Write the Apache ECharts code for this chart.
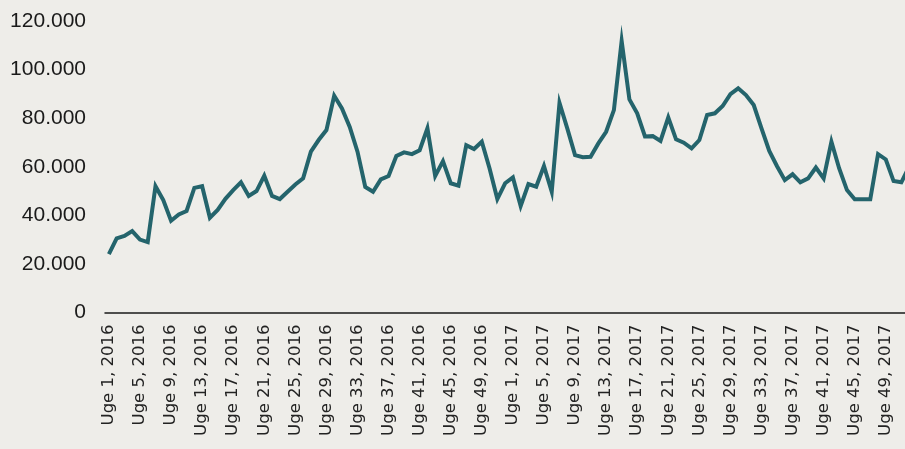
<!DOCTYPE html>
<html>
<head>
<meta charset="utf-8">
<script src="https://cdn.jsdelivr.net/npm/echarts@6/dist/echarts.min.js"></script>
<style>
  html, body { margin: 0; padding: 0; background: #eeede9; overflow: hidden; width: 905px; height: 449px; }
  #chart { width: 925px; height: 449px; }
</style>
</head>
<body>
<div id="chart"></div>
<script>
// ugenumre 2016 og 2017
var years = [2016, 2017];
var weeksPerYear = 52;

// ugentlige værdier, Uge 1 2016 .. Uge 52 2017
var values2016 = [
    24000, 30500, 31500, 33500, 30000, 29000, 52000, 46300, 37800, 40400,
    41800, 51300, 52000, 39000, 42200, 46800, 50400, 53600, 48000, 50000,
    56300, 48000, 46700, 49700, 52700, 55200, 66200, 71000, 75100, 89200,
    84000, 76400, 66200, 51700, 49700, 54800, 56200, 64400, 65900, 65200,
    66800, 75800, 56200, 62300, 53200, 52200, 68900, 67300, 70300, 59300,
    46700, 53200
];
var values2017 = [
    55600, 43800, 52900, 51800, 60300, 49700, 86300, 75800, 64800, 63900,
    64100, 69600, 74400, 83300, 111800, 87700, 82000, 72500, 72600, 70600,
    80300, 71300, 69900, 67600, 71000, 81300, 82000, 85000, 89900, 92300,
    89500, 85400, 75800, 66500, 60200, 54500, 56900, 53600, 55200, 59700,
    55200, 70300, 59300, 50400, 46600, 46600, 46600, 65200, 63000, 54100,
    53600, 60000
];
var yTicks = [0, 20000, 40000, 60000, 80000, 100000, 120000];

var categories = [];
years.forEach(function (y) {
    for (var w = 1; w <= weeksPerYear; w++) {
        categories.push('Uge ' + w + ', ' + y);
    }
});
var data = values2016.concat(values2017);

var chart = echarts.init(document.getElementById('chart'));

var option = {
    backgroundColor: '#eeede9',
    animation: false,
    grid: {
        left: 105,
        top: 21,
        width: 808,
        height: 291.5
    },
    xAxis: {
        type: 'category',
        data: categories,
        boundaryGap: true,
        axisLine: { lineStyle: { color: '#1a1a1a', width: 1.5 } },
        axisTick: {
            length: 4,
            interval: function (i) { return i % 2 === 1; },
            lineStyle: { color: '#1a1a1a', width: 1.2 }
        },
        axisLabel: {
            interval: 3,
            rotate: 90,
            margin: 12,
            color: '#222',
            fontFamily: 'DejaVu Sans',
            fontSize: 16.5
        }
    },
    yAxis: {
        type: 'value',
        min: yTicks[0],
        max: yTicks[yTicks.length - 1],
        interval: 20000,
        axisLine: { show: false },
        axisTick: { show: false },
        splitLine: { show: false },
        axisLabel: {
            margin: 19,
            color: '#1a1a1a',
            fontFamily: 'Liberation Sans',
            fontSize: 21,
            formatter: function (v) {
                return String(v).replace(/\B(?=(\d{3})+(?!\d))/g, '.');
            }
        }
    },
    series: [{
        type: 'line',
        data: data,
        showSymbol: false,
        lineStyle: { color: '#24646c', width: 4, join: 'miter' },
        itemStyle: { color: '#24646c' }
    }]
};

chart.setOption(option);
</script>
</body>
</html>
